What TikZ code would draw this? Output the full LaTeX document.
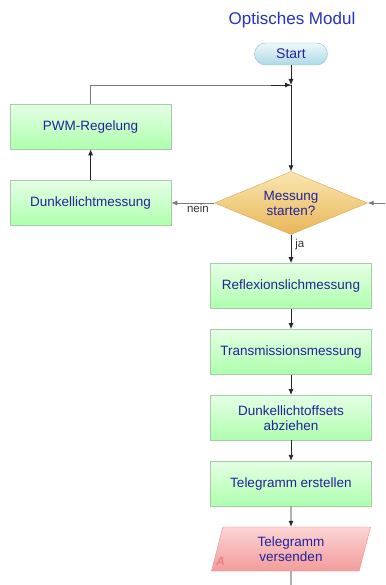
\documentclass[tikz,border=0pt]{standalone}
\usepackage{fontspec}
\setmainfont{Liberation Sans}
\usepackage{tikz}
\usetikzlibrary{arrows.meta}
\usetikzlibrary{positioning}
\usetikzlibrary{shapes.geometric}
\definecolor{txtblue}{HTML}{23239A}
\definecolor{titleblue}{HTML}{2433C2}
\definecolor{linegray}{HTML}{7A7A7A}
\definecolor{startTop}{HTML}{EEF8FA}
\definecolor{startBot}{HTML}{ACDAE6}
\definecolor{startLine}{HTML}{8CC0D0}
\definecolor{decTop}{HTML}{FAE6B0}
\definecolor{decBot}{HTML}{E8B658}
\definecolor{decLine}{HTML}{D8A858}
\definecolor{outTop}{HTML}{FCD4D4}
\definecolor{outBot}{HTML}{F29C9C}
\definecolor{outLine}{HTML}{EE9090}
\definecolor{markRed}{HTML}{EE8080}
\tikzstyle{process}=[draw=green!45!black!35,top color=green!10,bottom color=green!32,
  rectangle,minimum width=161pt,minimum height=45pt,inner sep=2pt,align=center,
  text=txtblue,font=\fontsize{13.5}{15}\selectfont]
\tikzstyle{terminal}=[draw=startLine,top color=startTop,bottom color=startBot,
  rectangle,rounded corners=11pt,minimum width=73pt,minimum height=22pt,
  text=txtblue,font=\fontsize{14}{16}\selectfont]
\tikzstyle{decision}=[draw=decLine,top color=decTop,bottom color=decBot,
  diamond,aspect=2.43,minimum width=153pt,minimum height=63pt,inner sep=0pt,align=center,
  text=txtblue,font=\fontsize{13.5}{15}\selectfont]
\tikzstyle{output}=[draw=outLine,top color=outTop,bottom color=outBot,
  trapezium,trapezium left angle=78,trapezium right angle=102,trapezium stretches=true,
  minimum width=160pt,minimum height=44pt,inner sep=1pt,align=center,
  text=txtblue,font=\fontsize{13.5}{15}\selectfont]
\tikzstyle{flow}=[draw=black!85,thick,-{Latex[length=6pt,width=5pt]}]
\tikzstyle{back}=[draw=linegray,thick]
\tikzstyle{tag}=[font=\fontsize{11.5}{13}\selectfont,text=black!80,inner sep=1pt]

\begin{document}
\begin{tikzpicture}[x=1pt,y=1pt,node distance=20.5pt]
\useasboundingbox (0,0) rectangle (385,-585);
\node [font=\fontsize{17}{19}\selectfont,text=titleblue] (title) at (292,-20) {Optisches Modul};
\node [terminal] (start) at (291,-54) {Start};
\coordinate (merge) at (291,-85);
\node [decision] (dec) at (291,-203) {Messung\\starten?};
\coordinate (loopin) at (385,-203);
% main column
\node [process,below=28.5pt of dec] (reflex) {Reflexionslichmessung};
\node [process,below=of reflex] (trans) {Transmissionsmessung};
\node [process,below=of trans] (offs) {Dunkellichtoffsets\\abziehen};
\node [process,below=of offs] (tele) {Telegramm erstellen};
\node [output,below=of tele] (send) {Telegramm\\versenden};
\node [font=\bfseries\itshape\fontsize{12}{12}\selectfont,text=markRed,anchor=south west,inner sep=0pt]
  (mark) at (216,-566) {A};
\coordinate (out) at (291,-585);
% left column
\node [process,left=43pt of dec] (dunkel) {Dunkellichtmessung};
\node [process,above=31pt of dunkel] (pwm) {PWM-Regelung};
% connectors
\draw [flow] (start) -- (merge);
\draw [flow] (merge) -- (dec);
\draw [back] (pwm.north) |- (merge);
\draw [flow] ([xshift=-20pt]merge) -- (merge);
\draw [back,-{Latex[length=6pt,width=5pt]}] (loopin) -- (dec.east);
\draw [back,-{Latex[length=6pt,width=5pt]}] (dec.west) -- node [tag,below,pos=0.38] {nein} (dunkel.east);
\draw [flow] (dunkel) -- (pwm);
\draw [flow] (dec.south) -- node [tag,right=3pt,pos=0.35] {ja} (reflex);
\draw [flow] (reflex) -- (trans);
\draw [flow] (trans) -- (offs);
\draw [flow] (offs) -- (tele);
\draw [flow] (tele) -- (send);
\draw [draw=black!85,thick] (send) -- (out);
\end{tikzpicture}
\end{document}
